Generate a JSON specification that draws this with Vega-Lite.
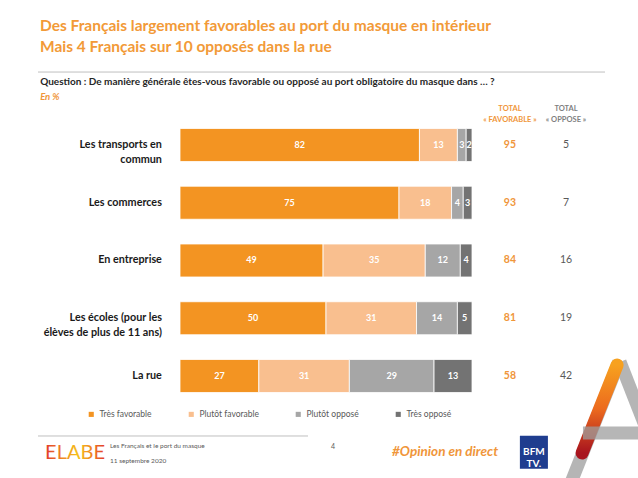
{
  "$schema": "https://vega.github.io/schema/vega-lite/v6.json",
  "width": 638,
  "height": 418,
  "autosize": {"type": "none"},
  "padding": {"top": 60, "left": 0, "right": 0, "bottom": 0},
  "background": "white",
  "config": {"font": "Lato", "view": {"stroke": null}, "text": {"lineBreak": "\n"}},
  "title": {
    "text": ["Des Français largement favorables au port du masque en intérieur", "Mais 4 Français sur 10 opposés dans la rue"],
    "anchor": "start", "frame": "group", "dx": 40, "offset": 5,
    "font": "Lato", "fontSize": 15.5, "fontWeight": "bold", "color": "#F29A38", "lineHeight": 21
  },
  "data": {"values": [{}]},
  "datasets": {
    "bars": [
      {"cat": "Les transports en commun", "resp": "Très favorable", "value": 82},
      {"cat": "Les transports en commun", "resp": "Plutôt favorable", "value": 13},
      {"cat": "Les transports en commun", "resp": "Plutôt opposé", "value": 3},
      {"cat": "Les transports en commun", "resp": "Très opposé", "value": 2},
      {"cat": "Les commerces", "resp": "Très favorable", "value": 75},
      {"cat": "Les commerces", "resp": "Plutôt favorable", "value": 18},
      {"cat": "Les commerces", "resp": "Plutôt opposé", "value": 4},
      {"cat": "Les commerces", "resp": "Très opposé", "value": 3},
      {"cat": "En entreprise", "resp": "Très favorable", "value": 49},
      {"cat": "En entreprise", "resp": "Plutôt favorable", "value": 35},
      {"cat": "En entreprise", "resp": "Plutôt opposé", "value": 12},
      {"cat": "En entreprise", "resp": "Très opposé", "value": 4},
      {"cat": "Les écoles (pour les élèves de plus de 11 ans)", "resp": "Très favorable", "value": 50},
      {"cat": "Les écoles (pour les élèves de plus de 11 ans)", "resp": "Plutôt favorable", "value": 31},
      {"cat": "Les écoles (pour les élèves de plus de 11 ans)", "resp": "Plutôt opposé", "value": 14},
      {"cat": "Les écoles (pour les élèves de plus de 11 ans)", "resp": "Très opposé", "value": 5},
      {"cat": "La rue", "resp": "Très favorable", "value": 27},
      {"cat": "La rue", "resp": "Plutôt favorable", "value": 31},
      {"cat": "La rue", "resp": "Plutôt opposé", "value": 29},
      {"cat": "La rue", "resp": "Très opposé", "value": 13}
    ],
    "cats": [
      {"cat": "Les transports en commun", "lbl": "Les transports en\ncommun", "fav": 95, "opp": 5},
      {"cat": "Les commerces", "lbl": "Les commerces", "fav": 93, "opp": 7},
      {"cat": "En entreprise", "lbl": "En entreprise", "fav": 84, "opp": 16},
      {"cat": "Les écoles (pour les élèves de plus de 11 ans)", "lbl": "Les écoles (pour les\nélèves de plus de 11 ans)", "fav": 81, "opp": 19},
      {"cat": "La rue", "lbl": "La rue", "fav": 58, "opp": 42}
    ]
  },
  "layer": [
    {
      "data": {"name": "bars"},
      "transform": [
        {"stack": "value", "groupby": ["cat"], "as": ["v0", "v1"]},
        {"calculate": "(datum.v0 + datum.v1) / 2", "as": "mid"}
      ],
      "layer": [
        {
          "mark": {"type": "bar", "stroke": "white", "strokeWidth": 0.8},
          "encoding": {
            "x": {"field": "v0", "type": "quantitative", "scale": {"domain": [-61.644, 156.849], "nice": false, "zero": false}, "axis": null},
            "x2": {"field": "v1"},
            "y": {"field": "cat", "type": "nominal", "axis": null,
              "scale": {"domain": ["h", "Les transports en commun", "Les commerces", "En entreprise", "Les écoles (pour les élèves de plus de 11 ans)", "La rue", "f"],
                "paddingInner": 0.4286, "paddingOuter": 0.3333, "align": 0.279}},
            "color": {"field": "resp", "type": "nominal",
              "scale": {"domain": ["Très favorable", "Plutôt favorable", "Plutôt opposé", "Très opposé"], "range": ["#F39422", "#F9BF8F", "#A6A6A6", "#737373"]},
              "legend": {"title": null, "orient": "none", "legendX": 87, "legendY": 350, "direction": "horizontal",
                "symbolType": "square", "symbolSize": 26, "symbolStrokeWidth": 0, "labelFontSize": 8.5, "labelColor": "#595959",
                "labelFont": "Lato", "columnPadding": 35, "labelOffset": 4}}
          }
        },
        {
          "mark": {"type": "text", "color": "white", "fontWeight": "bold", "fontSize": 9},
          "encoding": {
            "x": {"field": "mid", "type": "quantitative"},
            "y": {"field": "cat", "type": "nominal"},
            "text": {"field": "value", "type": "quantitative"}
          }
        }
      ]
    },
    {
      "data": {"name": "cats"},
      "layer": [
        {
          "mark": {"type": "text", "align": "right", "fontWeight": "bold", "fontSize": 10.8, "color": "#1A1A1A", "lineHeight": 15},
          "encoding": {
            "x": {"datum": -6.2, "type": "quantitative"},
            "y": {"field": "cat", "type": "nominal"},
            "text": {"field": "lbl"}
          }
        },
        {
          "mark": {"type": "text", "fontWeight": "bold", "fontSize": 10.5, "color": "#F0963A"},
          "encoding": {
            "x": {"datum": 113.0, "type": "quantitative"},
            "y": {"field": "cat", "type": "nominal"},
            "text": {"field": "fav", "type": "quantitative"}
          }
        },
        {
          "mark": {"type": "text", "fontSize": 10.5, "color": "#595959"},
          "encoding": {
            "x": {"datum": 132.2, "type": "quantitative"},
            "y": {"field": "cat", "type": "nominal"},
            "text": {"field": "opp", "type": "quantitative"}
          }
        }
      ]
    },
    {
      "mark": {"type": "text", "fontSize": 7.5, "fontWeight": "bold", "color": "#F0963A", "dy": 22, "lineHeight": 11},
      "encoding": {"x": {"datum": 113.0, "type": "quantitative"}, "y": {"datum": "h", "type": "nominal"}, "text": {"value": ["TOTAL", "« FAVORABLE »"]}}
    },
    {
      "mark": {"type": "text", "fontSize": 7.5, "fontWeight": "bold", "color": "#7F7F7F", "dy": 22, "lineHeight": 11},
      "encoding": {"x": {"datum": 132.2, "type": "quantitative"}, "y": {"datum": "h", "type": "nominal"}, "text": {"value": ["TOTAL", "« OPPOSE »"]}}
    },
    {
      "mark": {"type": "rule", "color": "#BFBFBF", "strokeWidth": 1, "yOffset": -15.2},
      "encoding": {"x": {"datum": -48.63, "type": "quantitative"}, "x2": {"datum": 145.55}, "y": {"datum": "h", "type": "nominal"}}
    },
    {
      "mark": {"type": "text", "align": "left", "fontWeight": "bold", "fontSize": 10, "color": "#262626", "dy": -5.2},
      "encoding": {"x": {"datum": -47.9, "type": "quantitative"}, "y": {"datum": "h", "type": "nominal"}, "text": {"value": "Question : De manière générale êtes-vous favorable ou opposé au port obligatoire du masque dans … ?"}}
    },
    {
      "mark": {"type": "text", "align": "left", "fontWeight": "bold", "fontStyle": "italic", "fontSize": 9.5, "color": "#F0963A", "dy": 9.8},
      "encoding": {"x": {"datum": -47.9, "type": "quantitative"}, "y": {"datum": "h", "type": "nominal"}, "text": {"value": "En %"}}
    },
    {
      "mark": {"type": "rule", "color": "#BFBFBF", "strokeWidth": 1, "yOffset": 2.25},
      "encoding": {"x": {"datum": -48.63, "type": "quantitative"}, "x2": {"datum": 43.84}, "y": {"datum": "f", "type": "nominal"}}
    },
    {
      "mark": {"type": "text", "align": "left", "fontSize": 20, "dy": 19.3,
        "fill": {"gradient": "linear", "x1": 0, "y1": 0, "x2": 1, "y2": 0, "stops": [{"offset": 0, "color": "#E2382B"}, {"offset": 0.3, "color": "#F08A24"}, {"offset": 0.55, "color": "#F5C21B"}, {"offset": 0.8, "color": "#EF7D22"}, {"offset": 1, "color": "#E2382B"}]}},
      "encoding": {"x": {"datum": -46.2, "type": "quantitative"}, "y": {"datum": "f", "type": "nominal"}, "text": {"value": "ELABE"}}
    },
    {
      "mark": {"type": "text", "align": "left", "fontSize": 6.5, "color": "#595959", "dy": 12.25},
      "encoding": {"x": {"datum": -23.97, "type": "quantitative"}, "y": {"datum": "f", "type": "nominal"}, "text": {"value": "Les Français et le port du masque"}}
    },
    {
      "mark": {"type": "text", "align": "left", "fontSize": 6.5, "color": "#595959", "dy": 27.25},
      "encoding": {"x": {"datum": -23.97, "type": "quantitative"}, "y": {"datum": "f", "type": "nominal"}, "text": {"value": "11 septembre 2020"}}
    },
    {
      "mark": {"type": "text", "fontSize": 7, "color": "#595959", "dy": 13.25},
      "encoding": {"x": {"datum": 52.4, "type": "quantitative"}, "y": {"datum": "f", "type": "nominal"}, "text": {"value": "4"}}
    },
    {
      "mark": {"type": "text", "align": "left", "fontSize": 13.5, "fontWeight": "bold", "fontStyle": "italic", "color": "#F0963A", "dy": 18.25},
      "encoding": {"x": {"datum": 72.6, "type": "quantitative"}, "y": {"datum": "f", "type": "nominal"}, "text": {"value": "#Opinion en direct"}}
    },
    {
      "mark": {"type": "bar", "color": "#1F3D8F", "yOffset": 18.5},
      "encoding": {"x": {"datum": 116.4, "type": "quantitative"}, "x2": {"datum": 126.0}, "y": {"datum": "f", "type": "nominal"}}
    },
    {
      "mark": {"type": "text", "fontSize": 10, "fontWeight": "bold", "color": "white", "dy": 18, "lineHeight": 12},
      "encoding": {"x": {"datum": 121.2, "type": "quantitative"}, "y": {"datum": "f", "type": "nominal"}, "text": {"value": ["BFM", "TV."]}}
    },
    {
      "mark": {"type": "rule", "color": "#B5B5B5", "strokeWidth": 13, "yOffset": -14, "y2Offset": 56.25},
      "encoding": {"x": {"datum": 150.3, "type": "quantitative"}, "x2": {"datum": 132.9}, "y": {"datum": "La rue", "type": "nominal"}, "y2": {"datum": "f"}}
    },
    {
      "mark": {"type": "rule", "color": "#B5B5B5", "strokeWidth": 13, "yOffset": -14, "y2Offset": 21.25},
      "encoding": {"x": {"datum": 150.7, "type": "quantitative"}, "x2": {"datum": 163.2}, "y": {"datum": "La rue", "type": "nominal"}, "y2": {"datum": "f"}}
    },
    {
      "mark": {"type": "rule", "strokeWidth": 13, "strokeCap": "round", "yOffset": -11, "y2Offset": 19.25,
        "stroke": {"gradient": "linear", "x1": 0, "y1": 0, "x2": 0, "y2": 1, "stops": [{"offset": 0, "color": "#F7A11F"}, {"offset": 0.5, "color": "#EC6A1E"}, {"offset": 1, "color": "#A8141E"}]}},
      "encoding": {"x": {"datum": 149.7, "type": "quantitative"}, "x2": {"datum": 137.7}, "y": {"datum": "La rue", "type": "nominal"}, "y2": {"datum": "f"}}
    },
    {
      "mark": {"type": "rule", "color": "#9E9E9E", "opacity": 0.75, "strokeWidth": 13, "yOffset": -0.75},
      "encoding": {"x": {"datum": 138.0, "type": "quantitative"}, "x2": {"datum": 160.0}, "y": {"datum": "f", "type": "nominal"}}
    }
  ]
}
